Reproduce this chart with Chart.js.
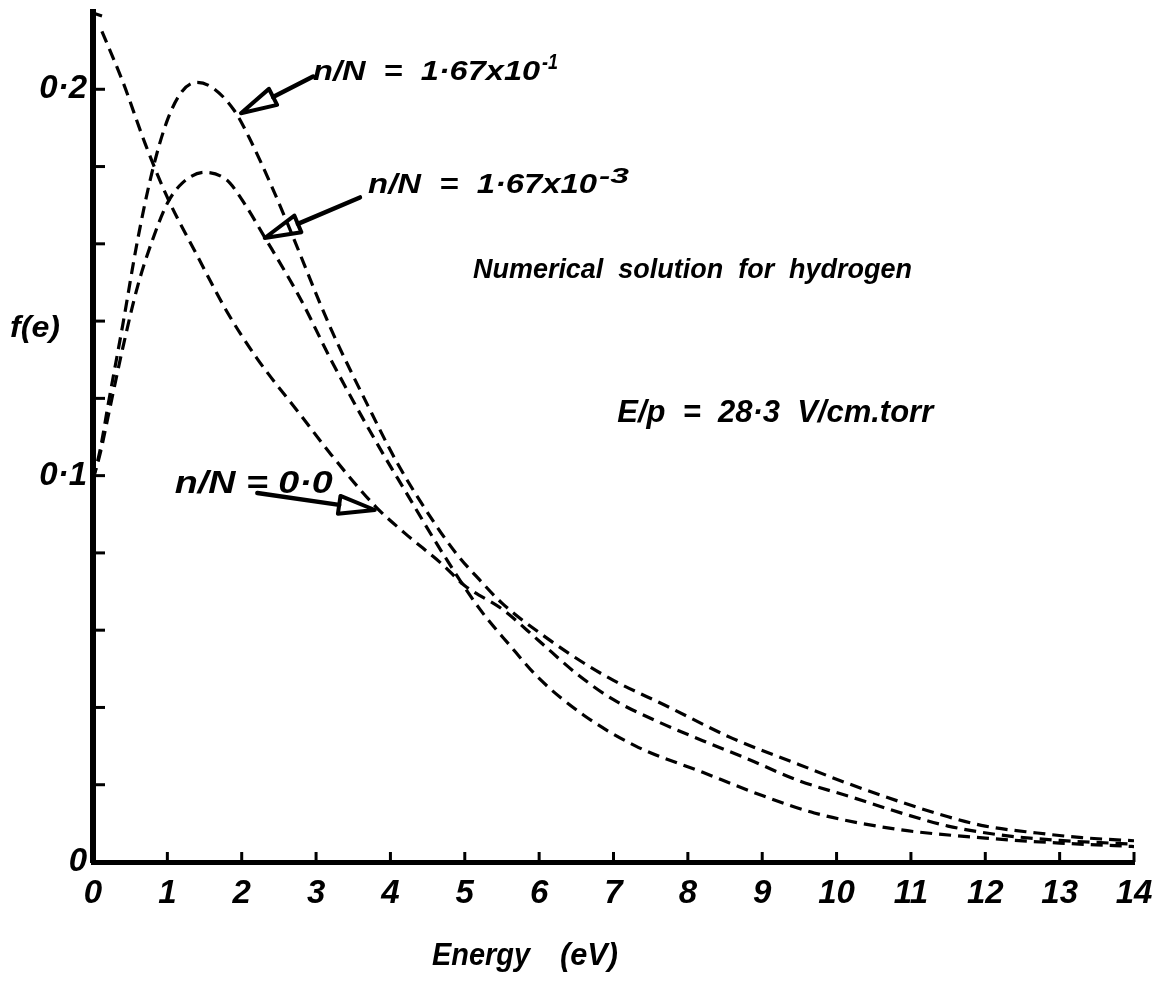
<!DOCTYPE html>
<html>
<head>
<meta charset="utf-8">
<title>f(e) - hydrogen</title>
<script src="https://cdn.jsdelivr.net/npm/chart.js@4.4.1/dist/chart.umd.min.js"></script>
<style>
  html, body { margin: 0; background: #fff; }
  #wrap { width: 1158px; height: 987px; }
</style>
</head>
<body>
<div id="wrap"><canvas id="grafico"></canvas></div>
<script>
// Datos
// n/N = 0.0
const energiaA = [0.12, 0.4, 0.7, 1.0, 1.4, 1.8, 2.2, 2.8, 3.2, 3.8, 4.2, 4.7, 5.0, 5.5, 6.0, 6.5, 7.0, 7.6, 8.2, 8.8, 9.5, 10.2, 10.9, 11.5, 12.2, 13.0, 14.0];
const fA = [0.2150, 0.2020, 0.1860, 0.1720, 0.1570, 0.1425, 0.1305, 0.1155, 0.1055, 0.0920, 0.0850, 0.0770, 0.0715, 0.0655, 0.0572, 0.0488, 0.0420, 0.0363, 0.0314, 0.0267, 0.0210, 0.0168, 0.0125, 0.0093, 0.0070, 0.0056, 0.0046];

// n/N = 1.67x10^-3
const energiaB = [0.0, 0.1, 0.2, 0.4, 0.6, 0.8, 1.0, 1.2, 1.5, 1.8, 2.0, 2.3, 2.8, 3.2, 3.8, 4.2, 4.7, 5.2, 5.6, 6.0, 6.6, 7.3, 8.2, 9.0, 9.7, 10.8, 12.0, 13.0, 14.0];
const fB = [0.099, 0.106, 0.115, 0.133, 0.149, 0.161, 0.1705, 0.1757, 0.1785, 0.1765, 0.1715, 0.162, 0.1454, 0.130, 0.109, 0.096, 0.080, 0.0655, 0.0562, 0.0475, 0.038, 0.0300, 0.0232, 0.0172, 0.0127, 0.0085, 0.0062, 0.0049, 0.0040];

// n/N = 1.67x10^-1
const energiaC = [0.0, 0.1, 0.2, 0.4, 0.6, 0.8, 1.0, 1.2, 1.4, 1.6, 1.9, 2.1, 2.4, 2.6, 3.2, 3.7, 4.1, 4.6, 4.9, 5.2, 5.5, 6.1, 6.6, 7.0, 7.7, 8.6, 9.5, 10.1, 10.9, 11.5, 12.0, 12.7, 13.3, 14.0];
const fC = [0.099, 0.107, 0.118, 0.139, 0.161, 0.179, 0.192, 0.1995, 0.2018, 0.2005, 0.1945, 0.1875, 0.175, 0.166, 0.138, 0.118, 0.103, 0.0875, 0.0795, 0.073, 0.067, 0.058, 0.0515, 0.047, 0.0405, 0.032, 0.0252, 0.0207, 0.0153, 0.0117, 0.0093, 0.0075, 0.0063, 0.0055];

// Etiquetas de los ejes
const yEtiquetasValor = [0, 0.1, 0.2];
const yEtiquetasTexto = ["0", "0·1", "0·2"];

const puntos = (xs, ys) => xs.map((x, i) => ({ x, y: ys[i] }));
const fuente = (size) => `italic bold ${size}px "Liberation Sans", Arial, sans-serif`;

// texto escalado en horizontal para parecerse al rotulado original
function texto(ctx, str, x, y, size, ancho) {
  ctx.save();
  ctx.font = fuente(size);
  const w = ctx.measureText(str).width;
  const k = ancho ? ancho / w : 1;
  ctx.translate(x, y);
  ctx.scale(k, 1);
  ctx.fillText(str, 0, 0);
  ctx.restore();
  return w * k;
}

// flecha con punta triangular hueca
function flecha(ctx, x1, y1, x2, y2) {
  const ang = Math.atan2(y2 - y1, x2 - x1);
  const largo = 36, media = 9;
  const bx = x2 - largo * Math.cos(ang);
  const by = y2 - largo * Math.sin(ang);
  ctx.save();
  ctx.strokeStyle = "#000";
  ctx.lineCap = "round";
  ctx.lineJoin = "round";
  ctx.lineWidth = 4.5;
  ctx.beginPath();
  ctx.moveTo(x1, y1);
  ctx.lineTo(bx, by);
  ctx.stroke();
  ctx.lineWidth = 4;
  ctx.beginPath();
  ctx.moveTo(x2, y2);
  ctx.lineTo(bx + media * Math.sin(ang), by - media * Math.cos(ang));
  ctx.lineTo(bx - media * Math.sin(ang), by + media * Math.cos(ang));
  ctx.closePath();
  ctx.stroke();
  ctx.restore();
}

const anotaciones = {
  id: "anotaciones",
  afterDraw(chart) {
    const { ctx, chartArea } = chart;
    const xs = chart.scales.x;
    const ys = chart.scales.y;
    const px = (v) => xs.getPixelForValue(v);
    const py = (v) => ys.getPixelForValue(v);

    ctx.save();
    ctx.fillStyle = "#000";
    ctx.strokeStyle = "#000";
    ctx.textBaseline = "alphabetic";
    ctx.textAlign = "left";

    // marcas hacia dentro
    ctx.lineWidth = 3;
    ys.ticks.forEach((t) => {
      if (t.value <= 0 || t.value > 0.21) return;
      ctx.beginPath();
      ctx.moveTo(chartArea.left, py(t.value));
      ctx.lineTo(chartArea.left + 12, py(t.value));
      ctx.stroke();
    });
    xs.ticks.forEach((t) => {
      if (t.value <= 0) return;
      ctx.beginPath();
      ctx.moveTo(px(t.value), chartArea.bottom);
      ctx.lineTo(px(t.value), chartArea.bottom - 10);
      ctx.stroke();
    });
    // gancho arriba del eje y
    ctx.beginPath();
    ctx.moveTo(chartArea.left, chartArea.top + 1);
    ctx.lineTo(chartArea.left + 9, chartArea.top + 4);
    ctx.stroke();

    // etiquetas de ejes
    texto(ctx, "f(e)", chartArea.left - 83, py(0.136), 30, 50);
    texto(ctx, "Energy", px(4.56), chartArea.bottom + 103, 32, 98);
    texto(ctx, "(eV)", px(6.28), chartArea.bottom + 103, 32, 58);

    // n/N = 1.67x10^-1
    let w = texto(ctx, "n/N  =  1·67x10", px(2.96), py(0.2023), 28, 227);
    texto(ctx, "-1", px(2.96) + w + 2, py(0.2023) - 11, 22, 16);
    flecha(ctx, px(2.96), py(0.2033), px(1.99), py(0.1938));

    // n/N = 1.67x10^-3
    w = texto(ctx, "n/N  =  1·67x10", px(3.70), py(0.1731), 28, 229);
    texto(ctx, "-3", px(3.70) + w + 2, py(0.1731) - 10, 22, 30);
    flecha(ctx, px(3.59), py(0.1720), px(2.31), py(0.1615));

    // n/N = 0.0
    texto(ctx, "n/N = 0·0", px(1.10), py(0.0955), 32, 158);
    flecha(ctx, px(2.21), py(0.0955), px(3.79), py(0.0911));

    texto(ctx, "Numerical  solution  for  hydrogen", px(5.11), py(0.1511), 27, 439);
    texto(ctx, "E/p  =  28·3  V/cm.torr", px(7.05), py(0.1138), 32, 316);

    ctx.restore();
  },
};

// Grafico
const estiloLinea = {
  borderColor: "#000",
  borderWidth: 3.2,
  borderDash: [12, 7],
  fill: false,
  pointRadius: 0,
  cubicInterpolationMode: "monotone",
};

const ctx = document.getElementById("grafico");
const grafico = new Chart(ctx, {
  type: "line",
  data: {
    datasets: [
      { label: "n/N = 0·0", data: puntos(energiaA, fA), ...estiloLinea },
      { label: "n/N = 1·67x10-3", data: puntos(energiaB, fB), ...estiloLinea },
      { label: "n/N = 1·67x10-1", data: puntos(energiaC, fC), ...estiloLinea },
    ],
  },
  options: {
    responsive: true,
    maintainAspectRatio: false,
    animation: false,
    layout: { padding: { top: 12, right: 24, left: 0, bottom: 0 } },
    plugins: { legend: { display: false }, tooltip: { enabled: false } },
    scales: {
      x: {
        type: "linear",
        min: 0,
        max: 14,
        grid: { display: false, drawTicks: false },
        border: { display: true, color: "#000", width: 5 },
        ticks: {
          stepSize: 1,
          color: "#000",
          font: { family: '"Liberation Sans", Arial, sans-serif', size: 33, style: "italic", weight: "bold" },
          padding: 12,
          maxRotation: 0,
          autoSkip: false,
        },
        afterFit: (s) => {
          s.height = 125;
          s.paddingLeft = 0;
          s.paddingRight = 0;
        },
      },
      y: {
        min: 0,
        max: 0.22,
        grid: { display: false, drawTicks: false },
        border: { display: true, color: "#000", width: 6 },
        ticks: {
          stepSize: 0.02,
          autoSkip: false,
          color: "#000",
          font: { family: '"Liberation Sans", Arial, sans-serif', size: 33, style: "italic", weight: "bold" },
          padding: 6,
          callback: (v) => {
            const i = yEtiquetasValor.findIndex((e) => Math.abs(e - v) < 1e-6);
            return i >= 0 ? yEtiquetasTexto[i] : "";
          },
        },
        afterFit: (s) => {
          s.width = 93;
          s.paddingTop = 0;
          s.paddingBottom = 0;
        },
      },
    },
  },
  plugins: [anotaciones],
});
</script>
</body>
</html>
